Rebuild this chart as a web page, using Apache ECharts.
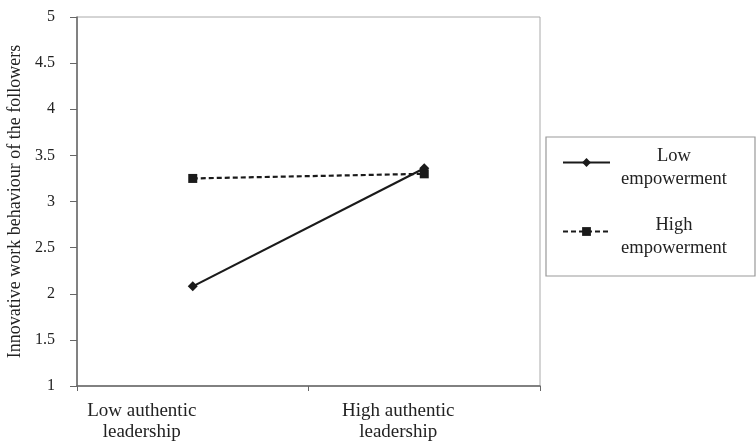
<!DOCTYPE html>
<html>
<head>
<meta charset="utf-8">
<script src="https://cdn.jsdelivr.net/npm/echarts@6/dist/echarts.min.js"></script>
<style>html,body{margin:0;padding:0;background:#fff;}#c{width:756px;height:442px;}</style>
</head>
<body>
<div id="c"></div>
<script>
var categories = ['Low authentic\nleadership', 'High authentic\nleadership'];
var lowEmpowerment = [2.08, 3.36];
var highEmpowerment = [3.25, 3.30];
var seriesNames = ['Low\nempowerment', 'High\nempowerment'];
var yTicks = { min: 1, max: 5, interval: 0.5 };
var yAxisTitle = 'Innovative work behaviour of the followers';

var FONT = '"Liberation Serif", "Times New Roman", serif';
var chart = echarts.init(document.getElementById('c'), null, { renderer: 'canvas' });
chart.setOption({
  animation: false,
  backgroundColor: '#fff',
  textStyle: { fontFamily: FONT },
  grid: {
    left: 77, right: 216, top: 17, bottom: 56,
    outerBoundsMode: 'none', containLabel: false,
    show: true, borderColor: '#aaa', borderWidth: 1, backgroundColor: 'transparent'
  },
  xAxis: {
    type: 'category',
    data: categories,
    boundaryGap: true,
    axisLine: { lineStyle: { color: '#666', width: 1.5 } },
    axisTick: { show: true, length: 5, lineStyle: { color: '#666' } },
    axisLabel: {
      color: '#222', fontFamily: FONT, fontSize: 19, margin: 15, lineHeight: 21, interval: 0,
      formatter: function (v, i) {
        var key = i === 0 ? 'p0' : 'p1';
        return v.split('\n').map(function (s) { return '{' + key + '|' + s + '}'; }).join('\n');
      },
      rich: {
        p0: { fontFamily: FONT, fontSize: 19, color: '#222', lineHeight: 21, align: 'center', padding: [0, 102, 0, 0] },
        p1: { fontFamily: FONT, fontSize: 19, color: '#222', lineHeight: 21, align: 'center', padding: [0, 52, 0, 0] }
      }
    },
    splitLine: { show: false }
  },
  yAxis: {
    type: 'value',
    min: yTicks.min, max: yTicks.max, interval: yTicks.interval,
    name: yAxisTitle,
    nameLocation: 'middle',
    nameGap: 52,
    nameTextStyle: { color: '#222', fontFamily: FONT, fontSize: 18 },
    axisLine: { show: true, lineStyle: { color: '#666', width: 1.5 } },
    axisTick: { show: true, length: 7, lineStyle: { color: '#666' } },
    axisLabel: { color: '#222', fontFamily: FONT, fontSize: 16, margin: 22 },
    splitLine: { show: false }
  },
  legend: {
    orient: 'vertical',
    left: 562,
    top: 134,
    padding: 0,
    itemWidth: 47,
    itemHeight: 11,
    itemGap: 12,
    itemTextGap: 5,
    textStyle: {
      color: '#222', fontFamily: FONT, fontSize: 18.5, lineHeight: 23,
      rich: {
        t: { width: 118, height: 11, fontSize: 4, lineHeight: 11 },
        a: { width: 118, height: 23, align: 'center', fontFamily: FONT, fontSize: 18.5, color: '#222', lineHeight: 23 },
        b: { width: 118, height: 23, align: 'center', fontFamily: FONT, fontSize: 18.5, color: '#222', lineHeight: 23 }
      }
    },
    formatter: function (name) {
      var parts = name.split('\n');
      return '{t| }\n{a|' + parts[0] + '}\n{b|' + parts[1] + '}';
    },
    data: seriesNames
  },
  graphic: [{
    type: 'rect',
    shape: { x: 546, y: 137, width: 209, height: 139 },
    style: { fill: 'none', stroke: '#999', lineWidth: 1.2 },
    z: -1
  }],
  series: [{
    name: seriesNames[0],
    type: 'line',
    data: lowEmpowerment,
    symbol: 'diamond',
    symbolSize: 10,
    itemStyle: { color: '#1a1a1a' },
    lineStyle: { color: '#1a1a1a', width: 2.2, type: 'solid' }
  }, {
    name: seriesNames[1],
    type: 'line',
    data: highEmpowerment,
    symbol: 'rect',
    symbolSize: 9,
    itemStyle: { color: '#1a1a1a' },
    lineStyle: { color: '#1a1a1a', width: 2.2, type: [5, 3] }
  }]
});
</script>
</body>
</html>
